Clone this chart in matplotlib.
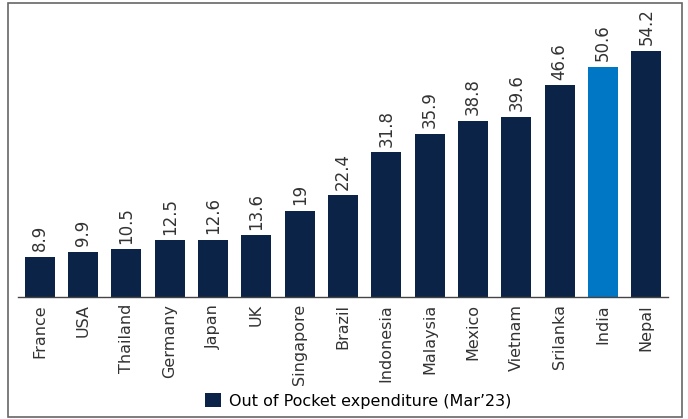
import matplotlib
matplotlib.use('Agg')
import matplotlib.pyplot as plt
from matplotlib.patches import Rectangle

countries = ['France', 'USA', 'Thailand', 'Germany', 'Japan', 'UK', 'Singapore', 'Brazil',
             'Indonesia', 'Malaysia', 'Mexico', 'Vietnam', 'Srilanka', 'India', 'Nepal']
values = [8.9, 9.9, 10.5, 12.5, 12.6, 13.6, 19, 22.4, 31.8, 35.9, 38.8, 39.6, 46.6, 50.6, 54.2]
labels = ['8.9', '9.9', '10.5', '12.5', '12.6', '13.6', '19', '22.4', '31.8', '35.9',
          '38.8', '39.6', '46.6', '50.6', '54.2']
highlight = 'India'
series_name = 'Out of Pocket expenditure (Mar’23)'

plt.rcParams['font.family'] = ['Liberation Sans Narrow', 'DejaVu Sans Condensed', 'DejaVu Sans']

navy = '#0b2346'
blue = '#0077c4'
colors = [blue if c == highlight else navy for c in countries]

fig = plt.figure(figsize=(6.88, 4.19), dpi=100)
ax = fig.add_axes([18 / 688, 1 - 297 / 419, 650 / 688, 280 / 419])

x = range(len(countries))
bars = ax.bar(x, values, width=0.69, color=colors)
for xi, v, lab in zip(x, values, labels):
    ax.annotate(lab, (xi, v), xytext=(0, 4), textcoords='offset points',
                rotation=90, ha='center', va='bottom', fontsize=12, color='#333333')

ax.set_xlim(-0.5, 14.5)
ax.set_ylim(0, 61.6)
ax.set_xticks(list(x))
ax.set_xticklabels(countries, rotation=90, fontsize=11.5, color='#333333')
ax.tick_params(axis='x', length=0, pad=5)
ax.set_yticks([])
for s in ['top', 'right', 'left']:
    ax.spines[s].set_visible(False)
ax.spines['bottom'].set_color('#444444')
ax.spines['bottom'].set_linewidth(1)

ax.legend(handles=[bars[0]], labels=[series_name], loc='center',
          bbox_to_anchor=(358 / 688, 1 - 401 / 419),
          bbox_transform=fig.transFigure, frameon=False, fontsize=11.5,
          handlelength=1.0, handleheight=1.0, handletextpad=0.5)

fig.patches.append(Rectangle((8 / 688, 2 / 419), 674 / 688, 414 / 419, transform=fig.transFigure,
                             fill=False, edgecolor='#666666', linewidth=1.2))

fig.savefig('out.png', dpi=100)
